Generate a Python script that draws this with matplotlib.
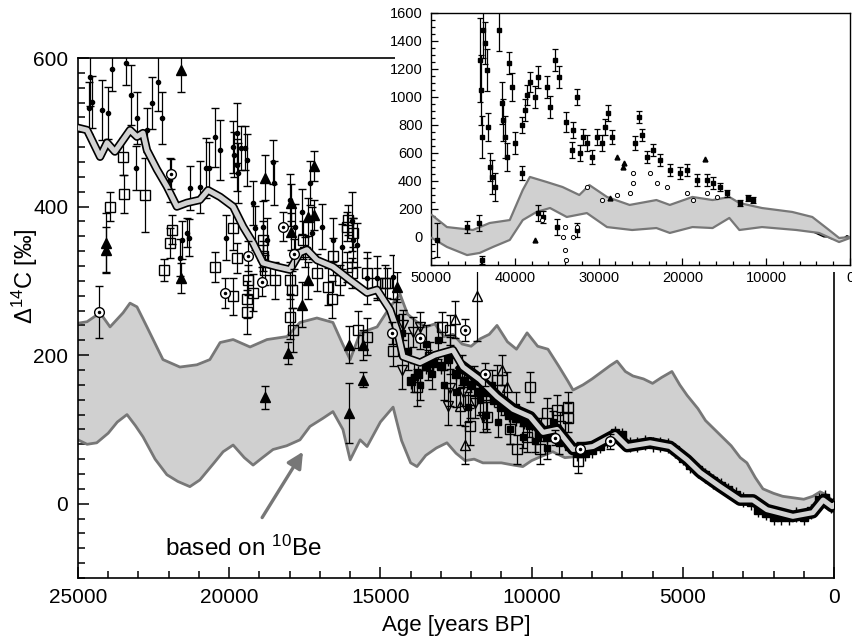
import numpy as np
import matplotlib
matplotlib.use("Agg")
import matplotlib.pyplot as plt
from matplotlib.patches import Rectangle
from matplotlib.ticker import MultipleLocator

plt.rcParams["font.family"]=["Liberation Sans","DejaVu Sans"]
plt.rcParams["mathtext.fontset"]="custom"
plt.rcParams["mathtext.rm"]="Liberation Sans"
plt.rcParams["mathtext.default"]="regular"

# ---- 10Be-based D14C band, 0-25 ka ----
UP_AGE=[25000,24700,24270,23940,23510,23280,23050,22720,22190,21630,21070,20640,20300,19870,19310,18750,18090,17660,17100,16570,16250,16000,15670,15110,14680,14350,14100,13800,13500,13200,12900,12600,12300,12000,11700,11400,11144,10800,10500,10150,9800,9460,9100,8800,8630,8300,8000,7600,7400,7175,6900,6650,6300,6000,5700,5360,5100,4860,4500,4250,4000,3700,3400,3100,2880,2600,2350,2000,1700,1350,1000,700,460,250,0]
UP_D14C=[243,245,257,238,257,270,265,238,194,184,187,194,217,221,211,221,225,244,250,244,215,194,230,238,265,282,255,245,238,242,225,228,215,212,222,228,240,218,208,230,212,208,185,165,153,160,168,180,186,192,178,172,168,162,170,178,160,146,128,112,102,90,78,62,55,35,20,14,10,8,6,10,16,12,2]
LO_AGE=[25000,24700,24380,24000,23700,23380,23100,22850,22450,22060,21700,21300,20970,20500,20200,19870,19500,19210,18900,18550,18100,17660,17330,16900,16570,16240,16000,15670,15440,15000,14580,14300,14000,13790,13500,13150,12800,12500,12200,11900,11610,11000,10600,10290,10000,9720,9300,8900,8630,8300,8000,7600,7300,7000,6700,6300,6000,5600,5300,5000,4700,4400,4000,3700,3400,3000,2600,2300,2000,1700,1400,1000,700,400,200,0]
LO_D14C=[86,80,82,95,110,120,105,90,60,39,30,23,32,55,70,79,62,52,62,73,78,86,104,115,124,100,59,86,77,110,130,85,55,50,65,75,82,68,58,60,55,55,52,50,58,63,70,62,63,70,80,88,95,88,82,82,82,78,74,65,55,46,34,26,20,10,-2,-10,-14,-16,-18,-16,-12,0,6,-4]

# ---- calibration curve ----
CUR_AGE=[25000,24700,24270,24040,23780,23280,23050,22850,22720,22390,22060,21730,21400,20970,20700,20300,19870,19540,19210,18880,18420,17990,17660,17430,17100,16570,16000,15440,15110,14680,14450,14250,13690,13200,12600,12270,11710,11140,10610,10050,9620,9160,8630,7970,7240,6840,6080,5420,4860,4430,3770,3110,2680,2220,1360,700,360,60,0]
CUR_D14C=[506,503,467,486,474,503,494,499,476,450,427,400,405,409,422,413,400,373,351,324,319,315,338,342,328,319,301,284,288,261,234,198,190,200,207,184,167,144,127,117,96,100,73,77,93,77,82,77,59,42,23,5,5,-8,-17,-12,5,-4,-2]

# ---- measurements ----
DOT_AGE=[24600,24640,24540,24210,24000,23870,23410,23250,23080,23050,22720,22550,22350,22220,21960,21630,21560,21400,21330,21300,20970,20770,20670,20470,20300,20110,19870,19840,19740,19740,19710,19610,19480,19410,19210,19150,18880,18750,18550,18520,17990,17820,17590,17330,17260,16930,16570,16270,15940,15910,15770,15440,15110,14580]
DOT_D14C=[575,533,541,530,526,585,593,550,452,519,503,540,568,519,436,331,355,365,358,425,427,452,452,493,476,358,480,470,499,456,445,479,479,463,405,371,373,355,460,432,409,373,393,432,365,373,355,346,380,355,348,304,304,305]
DOT_ERR=[40,35,35,40,35,30,30,40,30,35,30,35,40,35,30,25,25,20,25,30,35,40,35,40,40,30,35,30,40,35,40,30,30,35,30,30,35,30,30,30,35,30,30,30,35,30,30,30,40,30,30,35,30,30]

SQ_AGE=[23510,23480,23940,22780,21890,21960,22160,20470,19870,19740,19870,19410,19380,19410,19210,18880,18880,18820,18490,17990,17920,17990,17890,17560,17490,17100,16730,16600,16570,16340,16110,16080,15910,16110,15940,15740,15440,15440,15110,14780,14580,14850,13790,13360,12960,13420,12700,12040,12040,11470,11140,10710,10480,10050,10150,9720,9490,9060,9160,8800,8800,8470]
SQ_D14C=[467,417,400,416,369,351,315,319,371,331,279,275,301,258,284,355,333,315,301,301,288,252,234,355,339,311,292,275,333,301,373,382,365,319,311,234,225,311,297,297,205,297,157,198,238,187,234,140,104,117,167,100,73,157,90,73,122,104,126,130,116,57]
SQ_ERR=[25,25,20,50,20,20,15,20,30,20,25,25,20,30,25,25,20,20,25,25,25,30,30,25,20,25,25,25,25,20,20,20,20,20,20,25,25,20,20,20,20,25,25,20,20,20,20,25,25,20,20,20,20,20,20,20,20,20,20,20,20,15]

TRI_AGE=[24070,24070,21600,21600,18820,17200,17960,17960,17390,17200,18050,17590,17390,16040,15570,14450,18820,16040,15570]
TRI_D14C=[351,342,584,304,439,455,405,366,386,389,203,268,301,214,214,292,143,122,167]
TRI_ERR=[40,30,30,20,30,20,25,25,25,20,15,30,25,25,20,20,15,40,10]

CIR_AGE=[24300,21920,20140,19380,18920,18220,17860,14620,13690,12200,11540,9230,8400,7410]
CIR_D14C=[258,444,284,333,299,373,336,230,223,234,174,89,73,84]
CIR_ERR=[35,20,20,20,20,20,20,15,15,15,15,10,10,10]

UTRI_AGE=[11810,12530,12200,12370,10810,10980]
UTRI_D14C=[279,248,79,131,157,180]
UTRI_ERR=[60,25,25,25,20,20]
DTRI_AGE=[14250,13690,13920,14280,12700,12760,12270,11610,11870]
DTRI_D14C=[241,238,231,180,156,131,151,117,136]
DTRI_ERR=[20,20,20,25,25,25,20,20,20]

CORAL_AGE=[14500,14300,14100,13900,13700,13500,13300,13100,12900,12700,12500,12300,12100,11900,11700,11500,11300,11100,10900,10700,10500,10300,10100,9900,9700,9500,9300,9100]
CORAL_D14C=[250,230,205,170,160,215,175,220,160,200,150,180,130,165,140,120,160,110,140,100,130,90,105,85,100,75,110,82]
CORAL_ERR=[25,25,25,20,20,25,20,25,20,25,20,20,20,20,20,20,20,20,20,20,20,15,15,15,15,15,15,15]

TR_AGE=[14000,13750,13500,13250,13000,12750,12500,12250,12000,11750,11500,11250,11000,10750,10500,10250,10000,9750,9500,9250,9000,8750,8500,8250,8000,7750,7500,7250,7000,6750,6500,6250,6000,5750,5500,5250,5000,4750,4500,4250,4000,3750,3500,3250,3000,2750,2500,2250,2000,1750,1500,1250,1000,750,500,300,100]
TR_D14C=[165,175,185,190,185,195,175,165,160,150,150,140,130,120,115,110,108,95,90,92,90,78,68,68,72,78,85,95,92,80,80,82,80,80,78,72,62,52,45,38,30,24,18,12,6,2,-8,-12,-18,-18,-18,-15,-18,-10,5,8,-2]

# ---- 0-50 ka overview ----
IUP_AGE=[49900,48100,45000,43000,40600,39050,38200,36200,34300,32300,31100,29000,26300,23100,21500,18800,16400,14400,13200,10500,6900,4500,2500,1300,0]
IUP_D14C=[157,71,50,100,121,336,429,393,357,300,371,286,229,264,229,286,264,286,243,207,179,143,50,-7,0]
ILO_AGE=[49900,48100,45700,44200,42600,40600,39050,37400,35800,33800,31400,29000,26000,23100,21500,18800,16400,14400,13200,10500,6400,3700,1300,0]
ILO_D14C=[-7,-71,-129,-114,-71,-21,121,179,207,143,171,71,50,64,29,71,64,136,50,71,50,29,-36,-7]

ISQ_AGE=[44180,44060,43940,43820,43580,43340,43220,42980,42740,42390,41910,41550,41430,41190,40950,40710,40360,40000,39160,39160,38800,38560,38200,37610,37250,36180,35820,35220,34740,33900,33070,32590,33190,32230,31870,31400,30800,30200,29610,29250,28890,28420,25190,25670,24840,24240,23520,22690,21490,20300,19460,18270,17070,16360,15520,14690,13130,12180,11580,49310,45730,44300,43940,37250,36660,34990,32590]
ISQ_D14C=[1264,1050,714,1479,1386,1193,786,500,429,357,1479,957,836,714,571,1243,1071,671,457,800,907,1014,1107,1000,1143,1071,929,1264,1143,821,764,1000,621,600,714,671,571,714,671,786,886,714,857,671,729,571,621,550,479,457,479,407,407,386,357,314,243,279,264,-20,71,100,-164,171,143,71,50]
ISQ_ERR=[300,250,150,200,150,150,100,100,120,100,150,150,150,150,100,80,100,80,50,60,80,70,70,80,80,80,80,80,80,70,60,60,60,60,60,60,50,60,60,60,60,50,40,50,40,40,40,40,40,40,40,40,40,40,30,25,20,20,20,120,40,60,30,60,40,60,50]
ICIR_AGE=[25910,26270,23880,23040,21850,19460,18750,17070,15880,34270,34030,33910,34030,32590,33070,36780,31400,29610,27820,25910]
ICIR_D14C=[457,314,457,386,357,314,264,314,286,0,-93,-164,71,71,0,121,357,264,300,386]
ITRI_AGE=[37610,27100,17310,26990,27820,28660]
ITRI_D14C=[-21,500,557,529,571,279]

fig=plt.figure(figsize=(8.52,6.41),dpi=100)
ax=fig.add_axes([78/852,63/641,756/852,520/641])

def pts(a,age,val,err,mk,ms,fc,z=5,cap=3):
    a.errorbar(age,val,yerr=err,fmt=mk,ms=ms,mfc=fc,mec="k",mew=1,ecolor="k",
               elinewidth=0.9,capsize=cap,capthick=0.9,zorder=z)

# band
ax.fill(UP_AGE+LO_AGE[::-1],UP_D14C+LO_D14C[::-1],color="#d0d0d0",lw=0,zorder=1)
ax.plot(UP_AGE,UP_D14C,color="#777777",lw=2,zorder=2)
ax.plot(LO_AGE,LO_D14C,color="#777777",lw=2,zorder=2)

# data
pts(ax,CORAL_AGE,CORAL_D14C,CORAL_ERR,"s",5,"k",z=4)
ax.errorbar(TR_AGE,TR_D14C,yerr=10,fmt="s",ms=5.5,color="k",elinewidth=1,capsize=0,zorder=5)
# tree-ring part of the curve sits inside a dense black cloud of points
late=[i for i,a in enumerate(CUR_AGE) if a<=12300]
ax.plot([CUR_AGE[i] for i in late],[CUR_D14C[i] for i in late],color="k",lw=8.5,zorder=6)
ax.plot(CUR_AGE,CUR_D14C,color="k",lw=6,zorder=6)
ax.plot(CUR_AGE,CUR_D14C,color="#d2d2d2",lw=3.6,zorder=7)
pts(ax,DOT_AGE,DOT_D14C,DOT_ERR,"o",3,"k")
pts(ax,SQ_AGE,SQ_D14C,SQ_ERR,"s",7.5,"none")
pts(ax,TRI_AGE,TRI_D14C,TRI_ERR,"^",7.5,"k")
pts(ax,UTRI_AGE,UTRI_D14C,UTRI_ERR,"^",7.5,"none")
pts(ax,DTRI_AGE,DTRI_D14C,DTRI_ERR,"v",7.5,"none")
pts(ax,CIR_AGE,CIR_D14C,CIR_ERR,"o",7,"white",z=8)
ax.plot(CIR_AGE,CIR_D14C,"o",ms=1.5,color="k",zorder=9)

ax.set_xlim(25000,0); ax.set_ylim(-100,600)
ax.set_yticks([0,200,400,600])
ax.yaxis.set_minor_locator(MultipleLocator(20))
ax.xaxis.set_major_locator(MultipleLocator(5000))
ax.xaxis.set_minor_locator(MultipleLocator(1000))
ax.tick_params(which="both",direction="in",top=False,right=False,width=1.1,labelsize=15)
ax.tick_params(which="major",length=8)
ax.tick_params(which="minor",length=5)
ax.tick_params(axis="y",pad=7)
ax.tick_params(axis="x",pad=7)
for s in ax.spines.values(): s.set_linewidth(1.2)
ax.set_xlabel("Age [years BP]",fontsize=16,labelpad=6)
ax.set_ylabel(r"Δ$^{14}$C [‰]",fontsize=17)
ax.yaxis.set_label_coords(-0.05,0.58)

ax.annotate(r"based on $^{10}$Be",xy=(17560,70),xytext=(19540,-60),ha="center",va="center",
            fontsize=17.5,arrowprops=dict(arrowstyle="-|>",color="#777777",lw=2.4,
            mutation_scale=24,shrinkA=13,shrinkB=0))

# white backing for the overview panel
ax.add_patch(Rectangle((395/852,1-272/641),457/852,272/641,transform=fig.transFigure,
                       facecolor="white",edgecolor="none",clip_on=False,zorder=20))

ins=fig.add_axes([431/852,1-265/641,419/852,252/641])
late=[i for i,a in enumerate(CUR_AGE) if a<=11000]
ins.plot([CUR_AGE[i] for i in late],[CUR_D14C[i] for i in late],color="k",lw=1.8,zorder=1)
ins.fill(IUP_AGE+ILO_AGE[::-1],IUP_D14C+ILO_D14C[::-1],color="#d0d0d0",lw=0,zorder=2)
ins.plot(IUP_AGE,IUP_D14C,color="#777777",lw=1.6,zorder=3)
ins.plot(ILO_AGE,ILO_D14C,color="#777777",lw=1.6,zorder=3)
ins.errorbar(ISQ_AGE,ISQ_D14C,yerr=ISQ_ERR,fmt="s",ms=3,mfc="k",mec="k",ecolor="k",
             elinewidth=0.9,capsize=2,capthick=0.9,zorder=5)
ins.plot(ICIR_AGE,ICIR_D14C,"o",ms=3,mfc="white",mec="k",mew=0.7,zorder=6)
ins.plot(ITRI_AGE,ITRI_D14C,"^",ms=3.5,color="k",zorder=6)
ins.set_xlim(50000,0); ins.set_ylim(-200,1600)
ins.set_yticks(range(0,1601,200))
ins.yaxis.set_minor_locator(MultipleLocator(50))
ins.xaxis.set_major_locator(MultipleLocator(10000))
ins.xaxis.set_minor_locator(MultipleLocator(2000))
ins.tick_params(which="both",direction="in",width=0.9,labelsize=10.5)
ins.tick_params(which="major",length=5)
ins.tick_params(which="minor",length=3)
ins.tick_params(axis="y",pad=6)
ins.tick_params(axis="x",pad=4)
for s in ins.spines.values(): s.set_linewidth(1.0)

fig.savefig("out.png",dpi=100)
